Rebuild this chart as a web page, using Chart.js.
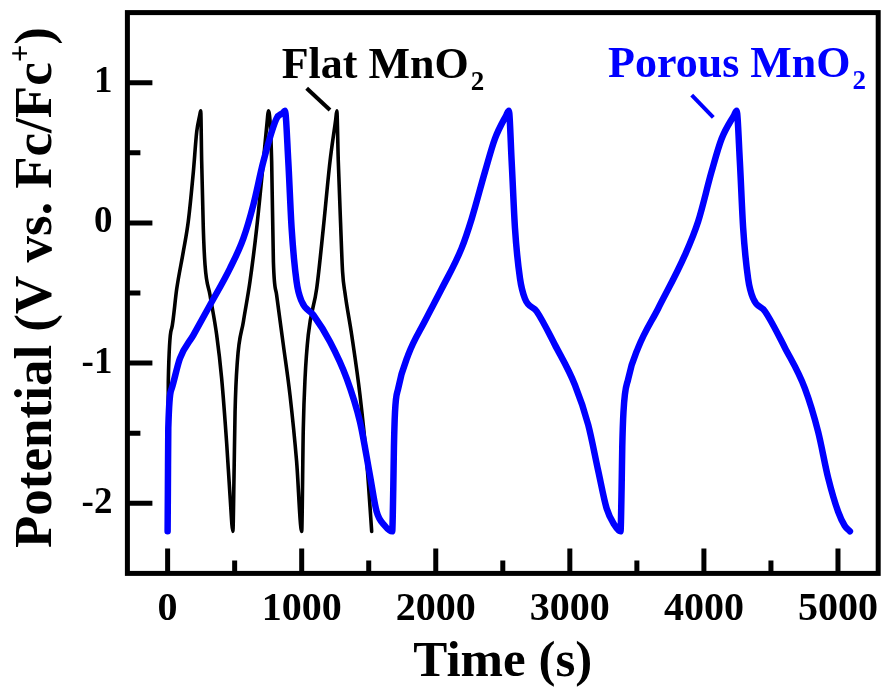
<!DOCTYPE html>
<html>
<head>
<meta charset="utf-8">
<script src="https://cdn.jsdelivr.net/npm/chart.js@4.4.1/dist/chart.umd.min.js"></script>
<style>
  html, body { margin: 0; padding: 0; background: #ffffff; }
  #wrap { width: 882px; height: 691px; }
</style>
</head>
<body>
<div id="wrap"><canvas id="c" width="882" height="691"></canvas></div>
<script>
// ---- data ----
const flatTime = [0, 3, 5, 31, 68, 117, 154, 192, 217, 240, 247, 254, 266, 279, 316, 366, 403, 441, 465, 487,
  495, 503, 520, 565, 614, 664, 714, 744, 751, 776, 789, 813, 863, 913, 962, 1000,
  1012, 1025, 1049, 1112, 1161, 1211, 1254, 1262, 1273, 1290, 1305, 1323, 1373, 1435, 1485, 1522];
const flatPotential = [-2.2, -1.6, -1.13, -0.75, -0.47, -0.205, 0.01, 0.365, 0.65, 0.77, 0.80, 0.44, -0.035, -0.30, -0.514, -0.80, -1.11, -1.58, -1.94, -2.2,
  -1.82, -1.35, -0.99, -0.705, -0.42, -0.04, 0.437, 0.74, 0.80, 0.44, -0.277, -0.514, -0.87, -1.23, -1.70, -2.2,
  -1.465, -1.11, -0.80, -0.467, -0.04, 0.437, 0.74, 0.80, 0.44, 0.0, -0.35, -0.50, -0.80, -1.23, -1.70, -2.2];

const porousTime = [0, 2, 5, 31, 92, 192, 316, 465, 565, 639, 714, 813, 860, 875, 900, 925, 962, 1000, 1087, 1211, 1336, 1435, 1509, 1559, 1620, 1675,
  1683, 1688, 1696, 1720, 1795, 1919, 2044, 2193, 2268, 2367, 2441, 2527, 2545, 2566, 2591, 2628, 2665, 2752, 2889, 3038, 3137, 3212, 3274, 3330, 3378,
  3386, 3391, 3400, 3436, 3510, 3659, 3858, 3957, 4057, 4132, 4226, 4244, 4268, 4293, 4330, 4368, 4455, 4604, 4753, 4852, 4927, 5001, 5050, 5089];
const porousPotential = [-2.2, -1.9, -1.465, -1.18, -0.966, -0.80, -0.586, -0.324, -0.11, 0.128, 0.437, 0.746, 0.785, 0.80, 0.44, -0.04, -0.42, -0.56, -0.657, -0.847, -1.11, -1.42, -1.80, -2.06, -2.16, -2.2,
  -1.9, -1.6, -1.35, -1.18, -0.94, -0.70, -0.47, -0.18, 0.03, 0.365, 0.60, 0.77, 0.80, 0.44, -0.04, -0.395, -0.54, -0.63, -0.87, -1.156, -1.44, -1.77, -2.035, -2.15, -2.2,
  -1.9, -1.6, -1.35, -1.11, -0.89, -0.61, -0.23, 0.01, 0.365, 0.60, 0.77, 0.80, 0.44, -0.04, -0.40, -0.54, -0.63, -0.89, -1.18, -1.49, -1.82, -2.06, -2.16, -2.2];

const xMajorTicks = [0, 1000, 2000, 3000, 4000, 5000];
const xMinorTicks = [500, 1500, 2500, 3500, 4500];
const yMajorTicks = [-2, -1, 0, 1];
const yMinorTicks = [-1.5, -0.5, 0.5];

const labelFlat = 'Flat MnO';
const labelPorous = 'Porous MnO';
const xTitle = 'Time (s)';
const yTitle = 'Potential (V vs. Fc/Fc';

// annotation anchor points (data coords)
const flatLabelAt = [851, 1.034];
const porousLabelAt = [3285, 1.04];
const flatLeader = [[1037, 0.96], [1211, 0.805]];
const porousLeader = [[3909, 0.912], [4070, 0.753]];

const SERIF = '"Liberation Serif", "Times New Roman", serif';

function pts(xs, ys) { return xs.map((x, i) => ({ x: x, y: ys[i] })); }

const decor = {
  id: 'decor',
  afterDraw(chart) {
    const ctx = chart.ctx;
    const a = chart.chartArea;
    const xs = chart.scales.x, ys = chart.scales.y;
    ctx.save();
    // frame
    ctx.strokeStyle = '#000';
    ctx.lineWidth = 5;
    ctx.strokeRect(a.left, a.top, a.right - a.left, a.bottom - a.top);
    // inward ticks
    ctx.lineCap = 'butt';
    ctx.beginPath();
    xMajorTicks.forEach(v => { const p = xs.getPixelForValue(v); ctx.moveTo(p, a.bottom); ctx.lineTo(p, a.bottom - 25); });
    xMinorTicks.forEach(v => { const p = xs.getPixelForValue(v); ctx.moveTo(p, a.bottom); ctx.lineTo(p, a.bottom - 13); });
    yMajorTicks.forEach(v => { const p = ys.getPixelForValue(v); ctx.moveTo(a.left, p); ctx.lineTo(a.left + 25, p); });
    yMinorTicks.forEach(v => { const p = ys.getPixelForValue(v); ctx.moveTo(a.left, p); ctx.lineTo(a.left + 13, p); });
    ctx.stroke();

    // x title
    ctx.fillStyle = '#000';
    ctx.font = 'bold 51px ' + SERIF;
    ctx.textAlign = 'center';
    ctx.textBaseline = 'alphabetic';
    ctx.fillText(xTitle, (a.left + a.right) / 2, 676);

    // y title (rotated) with superscript +
    ctx.save();
    ctx.translate(51, 287.5);
    ctx.rotate(-Math.PI / 2);
    ctx.textAlign = 'left';
    const fMain = 'bold 53px ' + SERIF, fSup = 'bold 31px ' + SERIF;
    ctx.font = fMain; const w1 = ctx.measureText(yTitle).width; const w3 = ctx.measureText(')').width;
    ctx.font = fSup; const w2 = ctx.measureText('+').width;
    let x0 = -(w1 + w2 + w3) / 2;
    ctx.font = fMain; ctx.fillText(yTitle, x0, 0);
    ctx.font = fSup; ctx.fillText('+', x0 + w1, -21);
    ctx.font = fMain; ctx.fillText(')', x0 + w1 + w2, 0);
    ctx.restore();

    // annotations
    function label(txt, at, color) {
      const px = xs.getPixelForValue(at[0]), py = ys.getPixelForValue(at[1]);
      ctx.fillStyle = color;
      ctx.textAlign = 'left';
      ctx.font = 'bold 44px ' + SERIF;
      ctx.fillText(txt, px, py);
      const w = ctx.measureText(txt).width;
      ctx.font = 'bold 27px ' + SERIF;
      ctx.fillText('2', px + w + 2, py + 12);
    }
    label(labelFlat, flatLabelAt, '#000');
    label(labelPorous, porousLabelAt, '#0000ff');
    function leader(seg, color) {
      ctx.strokeStyle = color; ctx.lineWidth = 4; ctx.lineCap = 'butt';
      ctx.beginPath();
      ctx.moveTo(xs.getPixelForValue(seg[0][0]), ys.getPixelForValue(seg[0][1]));
      ctx.lineTo(xs.getPixelForValue(seg[1][0]), ys.getPixelForValue(seg[1][1]));
      ctx.stroke();
    }
    leader(flatLeader, '#000');
    leader(porousLeader, '#0000ff');
    ctx.restore();
  }
};

new Chart(document.getElementById('c'), {
  type: 'scatter',
  data: {
    datasets: [
      { label: 'Porous MnO2', data: pts(porousTime, porousPotential), showLine: true, borderColor: '#0000ff',
        borderWidth: 6.5, pointRadius: 0, cubicInterpolationMode: 'monotone', borderCapStyle: 'round', borderJoinStyle: 'round' },
      { label: 'Flat MnO2', data: pts(flatTime, flatPotential), showLine: true, borderColor: '#000000',
        borderWidth: 3.6, pointRadius: 0, cubicInterpolationMode: 'monotone', borderCapStyle: 'round', borderJoinStyle: 'round' }
    ]
  },
  options: {
    responsive: false,
    animation: false,
    events: [],
    layout: { padding: { top: 12.6, right: 3.8, left: 0, bottom: 0 } },
    plugins: { legend: { display: false }, tooltip: { enabled: false } },
    scales: {
      x: {
        type: 'linear', min: -300, max: 5300,
        afterBuildTicks(s) { s.ticks = xMajorTicks.map(v => ({ value: v })); },
        afterFit(s) { s.height = 117.6; s.paddingLeft = 0; s.paddingRight = 0; },
        grid: { display: false, drawTicks: false },
        border: { display: false },
        ticks: { autoSkip: false, maxRotation: 0, minRotation: 0, padding: 12, color: '#000',
          callback: v => String(v),
          font: { family: SERIF, size: 40, weight: 'bold' } }
      },
      y: {
        type: 'linear', min: -2.5, max: 1.5,
        afterBuildTicks(s) { s.ticks = yMajorTicks.map(v => ({ value: v })); },
        afterFit(s) { s.width = 127.4; s.paddingTop = 0; s.paddingBottom = 0; },
        grid: { display: false, drawTicks: false },
        border: { display: false },
        ticks: { autoSkip: false, padding: 15, color: '#000',
          callback: v => String(v),
          font: { family: SERIF, size: 37, weight: 'bold' } }
      }
    }
  },
  plugins: [decor]
});
</script>
</body>
</html>
